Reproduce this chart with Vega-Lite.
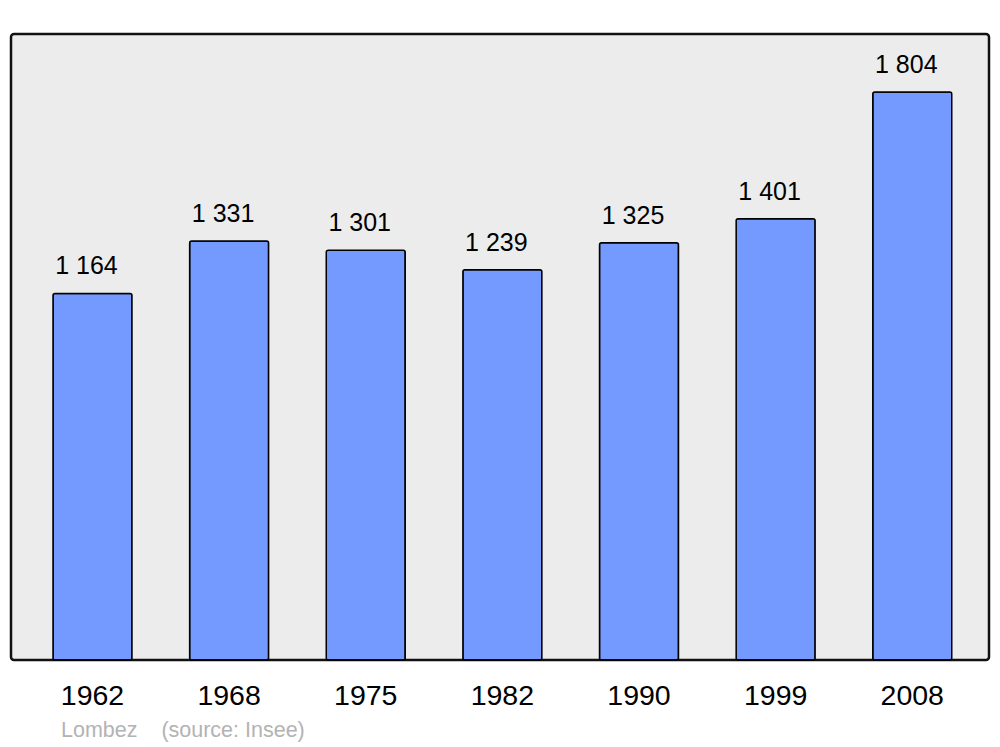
{
  "$schema": "https://vega.github.io/schema/vega-lite/v6.json",
  "width": 978,
  "height": 626,
  "autosize": {"type": "none"},
  "padding": {"left": 11, "top": 34, "right": 11, "bottom": 87},
  "background": "white",
  "config": {
    "view": {"fill": "#ececec", "stroke": "#111111", "strokeWidth": 2.5, "cornerRadius": 3},
    "font": "Liberation Sans"
  },
  "title": {
    "text": "Lombez\u00a0\u00a0\u00a0 (source: Insee)",
    "orient": "bottom",
    "anchor": "start",
    "frame": "group",
    "dx": 50,
    "offset": 10,
    "fontSize": 21.5,
    "fontWeight": "normal",
    "color": "#b3b3b3",
    "font": "Liberation Sans"
  },
  "data": {
    "values": [
      {"year": "1962", "pop": 1164, "label": "1 164"},
      {"year": "1968", "pop": 1331, "label": "1 331"},
      {"year": "1975", "pop": 1301, "label": "1 301"},
      {"year": "1982", "pop": 1239, "label": "1 239"},
      {"year": "1990", "pop": 1325, "label": "1 325"},
      {"year": "1999", "pop": 1401, "label": "1 401"},
      {"year": "2008", "pop": 1804, "label": "1 804"}
    ]
  },
  "encoding": {
    "x": {
      "field": "year",
      "type": "ordinal",
      "scale": {"paddingInner": 0.422, "paddingOuter": 0.29, "align": 0.53},
      "axis": {
        "title": null,
        "domain": false,
        "ticks": false,
        "labelAngle": 0,
        "labelFontSize": 28.5,
        "labelColor": "#000000",
        "labelFont": "Liberation Sans",
        "labelPadding": 21,
        "labelBaseline": "top"
      }
    },
    "y": {
      "field": "pop",
      "type": "quantitative",
      "scale": {"domain": [0, 1988], "nice": false},
      "axis": null
    }
  },
  "layer": [
    {
      "mark": {"type": "bar", "color": "#7499ff", "stroke": "#000000", "strokeWidth": 1.5, "cornerRadius": 2}
    },
    {
      "mark": {"type": "text", "fontSize": 25, "color": "#000000", "baseline": "alphabetic", "dy": -19, "dx": -6, "font": "Liberation Sans"},
      "encoding": {"text": {"field": "label"}}
    }
  ]
}
